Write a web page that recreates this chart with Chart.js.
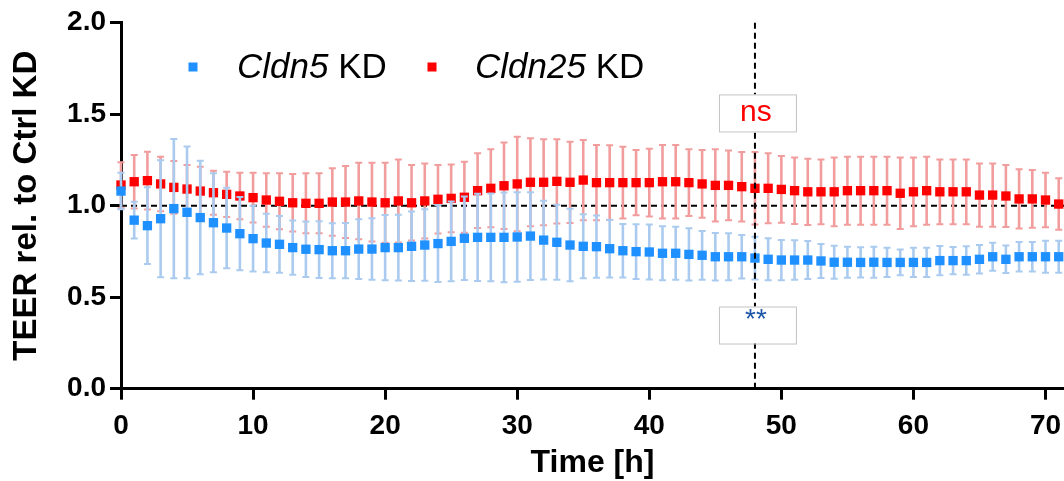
<!DOCTYPE html>
<html>
<head>
<meta charset="utf-8">
<script src="https://cdn.jsdelivr.net/npm/chart.js@4.4.1/dist/chart.umd.min.js"></script>
<style>
  html, body { margin: 0; padding: 0; background: #ffffff; }
  #wrap { width: 1064px; height: 481px; }
</style>
</head>
<body>
<div id="wrap"><canvas id="teer" width="1064" height="481"></canvas></div>
<script>
// Time points (h)
const hours = [0, 1, 2, 3, 4, 5, 6, 7, 8, 9, 10, 11, 12, 13, 14, 15, 16, 17, 18, 19,
  20, 21, 22, 23, 24, 25, 26, 27, 28, 29, 30, 31, 32, 33, 34, 35, 36, 37, 38, 39,
  40, 41, 42, 43, 44, 45, 46, 47, 48, 49, 50, 51, 52, 53, 54, 55, 56, 57, 58, 59,
  60, 61, 62, 63, 64, 65, 66, 67, 68, 69, 70, 71];

// Cldn5 KD: TEER relative to Ctrl KD (mean and error)
const cldn5Mean = [1.080, 0.921, 0.891, 0.929, 0.984, 0.964, 0.935, 0.907, 0.878, 0.847,
  0.820, 0.796, 0.789, 0.771, 0.762, 0.760, 0.754, 0.754, 0.763, 0.763,
  0.771, 0.771, 0.778, 0.785, 0.793, 0.805, 0.822, 0.827, 0.827, 0.827,
  0.829, 0.834, 0.812, 0.800, 0.785, 0.778, 0.776, 0.765, 0.754, 0.749,
  0.747, 0.740, 0.740, 0.734, 0.729, 0.721, 0.721, 0.721, 0.714, 0.707,
  0.703, 0.703, 0.703, 0.698, 0.691, 0.691, 0.690, 0.691, 0.690, 0.690,
  0.690, 0.690, 0.700, 0.700, 0.700, 0.707, 0.721, 0.707, 0.721, 0.721,
  0.721, 0.721];
const cldn5Err = [0.100, 0.100, 0.210, 0.320, 0.380, 0.360, 0.310, 0.270, 0.220, 0.200,
  0.180, 0.160, 0.155, 0.148, 0.152, 0.155, 0.150, 0.151, 0.163, 0.168,
  0.178, 0.180, 0.190, 0.195, 0.210, 0.218, 0.228, 0.238, 0.240, 0.245,
  0.245, 0.240, 0.215, 0.205, 0.198, 0.175, 0.170, 0.158, 0.146, 0.150,
  0.150, 0.148, 0.145, 0.143, 0.133, 0.130, 0.128, 0.119, 0.117, 0.115,
  0.110, 0.108, 0.104, 0.093, 0.090, 0.085, 0.083, 0.085, 0.080, 0.070,
  0.080, 0.080, 0.080, 0.075, 0.078, 0.078, 0.077, 0.075, 0.080, 0.080,
  0.088, 0.088];

// Cldn25 KD: TEER relative to Ctrl KD (mean and error)
const cldn25Mean = [1.113, 1.131, 1.137, 1.119, 1.100, 1.091, 1.080, 1.071, 1.062, 1.053,
  1.044, 1.031, 1.024, 1.016, 1.013, 1.013, 1.020, 1.020, 1.026, 1.020,
  1.016, 1.026, 1.016, 1.026, 1.035, 1.040, 1.046, 1.082, 1.095, 1.109,
  1.119, 1.128, 1.128, 1.133, 1.128, 1.140, 1.126, 1.126, 1.126, 1.126,
  1.126, 1.131, 1.131, 1.126, 1.119, 1.111, 1.111, 1.104, 1.095, 1.095,
  1.089, 1.082, 1.076, 1.076, 1.076, 1.082, 1.082, 1.082, 1.082, 1.068,
  1.076, 1.082, 1.076, 1.076, 1.076, 1.058, 1.058, 1.053, 1.037, 1.037,
  1.031, 1.009];
const cldn25Err = [0.125, 0.146, 0.158, 0.149, 0.144, 0.131, 0.133, 0.120, 0.124, 0.127,
  0.136, 0.146, 0.153, 0.157, 0.164, 0.164, 0.184, 0.197, 0.209, 0.215,
  0.219, 0.227, 0.206, 0.205, 0.187, 0.185, 0.194, 0.204, 0.213, 0.237,
  0.258, 0.240, 0.235, 0.230, 0.222, 0.219, 0.206, 0.204, 0.196, 0.178,
  0.185, 0.201, 0.201, 0.182, 0.185, 0.197, 0.190, 0.190, 0.198, 0.191,
  0.182, 0.182, 0.181, 0.177, 0.188, 0.186, 0.186, 0.186, 0.186, 0.196,
  0.188, 0.186, 0.177, 0.177, 0.177, 0.173, 0.173, 0.169, 0.162, 0.158,
  0.149, 0.141];

// Axis ticks
const xTickValues = [0, 10, 20, 30, 40, 50, 60, 70];
const yTickValues = [0, 0.5, 1.0, 1.5, 2.0];
const yTickLabels = ['0.0', '0.5', '1.0', '1.5', '2.0'];

// Reference level, time of comparison and significance labels
const refLevel = 1.0;
const testTime = 48;
const sigLabels = ['ns', '**'];

const FONT = "'Liberation Sans', Arial, Helvetica, sans-serif";
const BLUE = '#1e90ff';
const RED = '#ff0000';
const BLUE_BAR = '#aacbef';
const RED_BAR = '#f29d9d';

const seriesErr = [cldn5Err, cldn25Err];

// Error bars with caps, drawn just before each dataset's markers
const errorBars = {
  id: 'errorBars',
  beforeDatasetDraw(chart, args) {
    const ds = chart.data.datasets[args.index];
    const err = seriesErr[args.index];
    const xs = chart.scales.x, ys = chart.scales.y;
    const ctx = chart.ctx;
    ctx.save();
    ctx.strokeStyle = ds.barColor;
    ctx.lineCap = 'butt';
    ds.data.forEach((p, i) => {
      const x = xs.getPixelForValue(p.x);
      const yt = ys.getPixelForValue(p.y + err[i]);
      const yb = ys.getPixelForValue(p.y - err[i]);
      ctx.lineWidth = 2.6;
      ctx.beginPath();
      ctx.moveTo(x, yt);
      ctx.lineTo(x, yb);
      ctx.stroke();
      ctx.lineWidth = 2;
      ctx.beginPath();
      ctx.moveTo(x - 3.5, yt);
      ctx.lineTo(x + 3.5, yt);
      ctx.moveTo(x - 3.5, yb);
      ctx.lineTo(x + 3.5, yb);
      ctx.stroke();
    });
    ctx.restore();
  }
};

// Dashed reference line at 1.0 under the data
const refLine = {
  id: 'refLine',
  beforeDatasetsDraw(chart) {
    const {ctx, chartArea} = chart;
    const y = chart.scales.y.getPixelForValue(refLevel);
    ctx.save();
    ctx.strokeStyle = '#000';
    ctx.lineWidth = 2;
    ctx.setLineDash([6, 4]);
    ctx.beginPath();
    ctx.moveTo(chartArea.left, y);
    ctx.lineTo(chartArea.right, y);
    ctx.stroke();
    ctx.restore();
  }
};

// Vertical marker at the comparison time with significance boxes
const sigMarks = {
  id: 'sigMarks',
  afterDatasetsDraw(chart) {
    const ctx = chart.ctx;
    const xs = chart.scales.x, ys = chart.scales.y;
    const x = xs.getPixelForValue(testTime);
    ctx.save();
    ctx.strokeStyle = '#000';
    ctx.lineWidth = 2;
    ctx.setLineDash([6, 4]);
    ctx.beginPath();
    ctx.moveTo(x, ys.getPixelForValue(2.0));
    ctx.lineTo(x, ys.getPixelForValue(0));
    ctx.stroke();
    ctx.setLineDash([]);

    const boxes = [
      {yv: 1.507, text: sigLabels[0], color: RED, dy: 0, font: `30px ${FONT}`},
      {yv: 0.348, text: sigLabels[1], color: '#1f57a8', dy: -5, font: `28px ${FONT}`}
    ];
    boxes.forEach(b => {
      const cy = ys.getPixelForValue(b.yv);
      const w = 77, h = 37;
      ctx.fillStyle = '#ffffff';
      ctx.fillRect(x - 36, cy - h / 2, w, h);
      ctx.strokeStyle = '#c4c4c4';
      ctx.lineWidth = 1;
      ctx.strokeRect(x - 36 + 0.5, cy - h / 2 + 0.5, w, h);
      ctx.fillStyle = b.color;
      ctx.font = b.font;
      ctx.textAlign = 'center';
      ctx.textBaseline = 'middle';
      ctx.fillText(b.text, x + 1, cy + b.dy);
    });
    ctx.restore();
  }
};

// Legend with italic gene names
const geneLegend = {
  id: 'geneLegend',
  afterDraw(chart) {
    const ctx = chart.ctx;
    const items = [
      {mx: 193, tx: 237, gene: 'Cldn5', color: BLUE},
      {mx: 432, tx: 475, gene: 'Cldn25', color: RED}
    ];
    ctx.save();
    ctx.textBaseline = 'alphabetic';
    ctx.textAlign = 'left';
    items.forEach(it => {
      ctx.fillStyle = it.color;
      ctx.fillRect(it.mx - 4.5, 67 - 4.5, 9, 9);
      ctx.fillStyle = '#000';
      ctx.font = `italic 35px ${FONT}`;
      ctx.fillText(it.gene, it.tx, 77.5);
      const w = ctx.measureText(it.gene).width;
      ctx.font = `35px ${FONT}`;
      ctx.fillText(' KD', it.tx + w, 77.5);
    });
    ctx.restore();
  }
};

const toPoints = (means) => hours.map((h, i) => ({x: h, y: means[i]}));

new Chart(document.getElementById('teer'), {
  type: 'scatter',
  data: {
    datasets: [
      {
        label: 'Cldn5 KD',
        data: toPoints(cldn5Mean),
        backgroundColor: BLUE,
        borderColor: BLUE,
        barColor: BLUE_BAR,
        pointStyle: 'rect',
        pointRadius: 6.6,
        pointBorderWidth: 0,
        clip: false
      },
      {
        label: 'Cldn25 KD',
        data: toPoints(cldn25Mean),
        backgroundColor: RED,
        borderColor: RED,
        barColor: RED_BAR,
        pointStyle: 'rect',
        pointRadius: 6.6,
        pointBorderWidth: 0,
        clip: false
      }
    ]
  },
  options: {
    responsive: false,
    animation: false,
    events: [],
    layout: { autoPadding: false, padding: { top: 22.7, right: 0, left: 0, bottom: 0 } },
    plugins: {
      legend: { display: false },
      tooltip: { enabled: false }
    },
    scales: {
      x: {
        type: 'linear',
        position: 'bottom',
        min: 0,
        max: 71.4,
        afterBuildTicks: (s) => { s.ticks = xTickValues.map(v => ({value: v})); },
        afterFit: (s) => { s.height = 92.3; s.paddingLeft = 0; s.paddingRight = 0; },
        ticks: {
          color: '#000',
          font: { family: FONT, size: 28, weight: 'bold' },
          padding: 10,
          maxRotation: 0,
          callback: (v) => String(v)
        },
        grid: { drawOnChartArea: false, drawTicks: true, tickLength: 11, lineWidth: 3, color: '#000' },
        border: { display: true, width: 3, color: '#000' },
        title: {
          display: true,
          text: 'Time [h]',
          color: '#000',
          font: { family: FONT, size: 32, weight: 'bold', lineHeight: 1 },
          padding: { top: 0, bottom: 1.5 }
        }
      },
      y: {
        type: 'linear',
        min: 0,
        max: 2,
        afterBuildTicks: (s) => { s.ticks = yTickValues.map(v => ({value: v})); },
        afterFit: (s) => { s.width = 121; s.paddingTop = 0; s.paddingBottom = 0; },
        ticks: {
          color: '#000',
          font: { family: FONT, size: 28, weight: 'bold' },
          padding: 4,
          callback: (v, i) => yTickLabels[i]
        },
        grid: { drawOnChartArea: false, drawTicks: true, tickLength: 11, lineWidth: 3, color: '#000' },
        border: { display: true, width: 3, color: '#000' },
        title: {
          display: true,
          text: 'TEER rel. to Ctrl KD',
          color: '#000',
          font: { family: FONT, size: 33, weight: 'bold', lineHeight: 1 },
          padding: { top: 10, bottom: 0 }
        }
      }
    }
  },
  plugins: [refLine, errorBars, sigMarks, geneLegend]
});
</script>
</body>
</html>
